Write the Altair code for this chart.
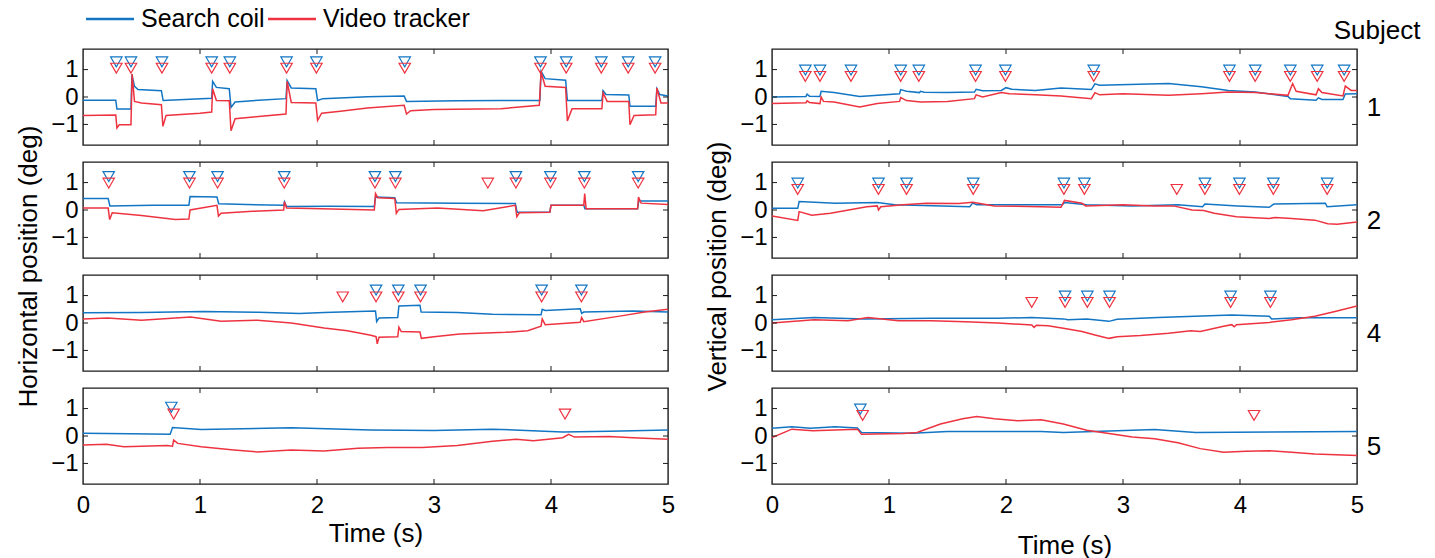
import altair as alt
import pandas as pd

BLUE = "#1276c4"
RED = "#ee3340"
FONT = "Liberation Sans"

SERIES = ["Search coil", "Video tracker"]
SUBJECTS = ["1", "2", "4", "5"]
TIME_TICKS = [0, 1, 2, 3, 4, 5]
INNER_TIME_TICKS = [1, 2, 3, 4]
POS_TICKS = [-1, 0, 1]
Y_TITLES = ["Horizontal position (deg)", "Vertical position (deg)"]
X_TITLE = "Time (s)"

# ---- horizontal eye position traces: (time s, position deg) ----
H1_COIL = [(0, -0.12), (0.28, -0.12), (0.29, -0.44), (0.41, -0.44), (0.418, 0.82), (0.44, 0.39),
           (0.47, 0.27), (0.67, 0.23), (0.685, -0.13), (1.1, -0.05), (1.108, 0.57), (1.14, 0.35),
           (1.25, 0.3), (1.265, -0.38), (1.30, -0.18), (1.5, -0.12), (1.735, -0.06), (1.745, 0.6),
           (1.78, 0.33), (1.99, 0.3), (2.005, -0.13), (2.05, -0.06), (2.43, 0.01), (2.745, 0.04),
           (2.765, -0.16), (3.2, -0.14), (3.57, -0.13), (3.905, -0.13), (3.915, 0.94), (3.95, 0.67),
           (4.125, 0.61), (4.14, -0.13), (4.435, -0.13), (4.445, 0.23), (4.47, 0.09), (4.665, 0.07),
           (4.675, -0.34), (4.895, -0.34), (4.905, 0.3), (4.93, 0.09), (5.0, 0.04)]
H1_VIDEO = [(0, -0.67), (0.28, -0.66), (0.29, -1.13), (0.31, -1.01), (0.41, -1.01), (0.42, 0.84),
            (0.44, -0.16), (0.5, -0.22), (0.67, -0.28), (0.683, -1.07), (0.71, -0.67), (1.0, -0.59),
            (1.1, -0.55), (1.108, 0.3), (1.14, -0.13), (1.25, -0.14), (1.265, -1.23), (1.3, -0.79),
            (1.5, -0.71), (1.735, -0.62), (1.745, 0.57), (1.78, -0.2), (1.99, -0.22), (2.005, -0.85),
            (2.04, -0.59), (2.2, -0.52), (2.43, -0.4), (2.745, -0.3), (2.765, -0.62), (2.8, -0.5),
            (3.0, -0.46), (3.57, -0.43), (3.9, -0.3), (3.915, 0.91), (3.95, 0.39), (4.125, 0.35),
            (4.14, -0.87), (4.18, -0.43), (4.435, -0.43), (4.445, 0.15), (4.48, -0.16), (4.665, -0.16),
            (4.675, -1.01), (4.71, -0.67), (4.895, -0.65), (4.905, 0.33), (4.94, -0.22), (5.0, -0.22)]

H2_COIL = [(0, 0.42), (0.215, 0.42), (0.23, 0.15), (0.6, 0.17), (0.905, 0.17), (0.915, 0.49),
           (1.145, 0.47), (1.16, 0.23), (1.4, 0.2), (1.715, 0.17), (1.722, 0.3), (1.74, 0.13),
           (2.1, 0.14), (2.49, 0.13), (2.5, 0.47), (2.665, 0.45), (2.68, 0.26), (3.2, 0.25),
           (3.695, 0.24), (3.71, -0.08), (3.99, -0.08), (4.0, 0.17), (4.28, 0.17), (4.29, 0.05),
           (4.74, 0.05), (4.75, 0.33), (5.0, 0.33)]
H2_VIDEO = [(0, 0.07), (0.215, 0.07), (0.228, -0.35), (0.25, -0.1), (0.5, -0.2), (0.79, -0.35),
            (0.905, -0.33), (0.915, 0.0), (1.145, 0.17), (1.158, -0.22), (1.18, -0.12), (1.45, -0.05),
            (1.715, 0.0), (1.722, 0.3), (1.74, 0.07), (2.04, 0.05), (2.49, 0.0), (2.5, 0.6),
            (2.52, 0.45), (2.665, 0.42), (2.678, -0.12), (2.7, 0.02), (3.03, 0.07), (3.42, -0.03),
            (3.695, 0.17), (3.708, -0.24), (3.73, -0.1), (3.99, -0.08), (4.0, 0.17), (4.28, 0.17),
            (4.288, 0.6), (4.3, 0.05), (4.74, 0.05), (4.748, 0.47), (4.77, 0.25), (5.0, 0.2)]

H3_COIL = [(0, 0.37), (0.5, 0.38), (1.03, 0.42), (1.5, 0.39), (1.85, 0.35), (2.06, 0.38),
           (2.35, 0.42), (2.5, 0.44), (2.51, 0.05), (2.53, 0.18), (2.69, 0.2), (2.70, 0.62),
           (2.88, 0.65), (2.89, 0.4), (3.2, 0.38), (3.5, 0.32), (3.915, 0.3), (3.925, 0.5),
           (3.95, 0.46), (4.25, 0.52), (4.262, 0.35), (4.28, 0.4), (4.7, 0.44), (5.0, 0.4)]
H3_VIDEO = [(0, 0.15), (0.21, 0.18), (0.5, 0.1), (0.92, 0.22), (1.18, 0.06), (1.49, 0.1),
            (1.78, 0.0), (2.06, -0.18), (2.26, -0.28), (2.46, -0.45), (2.505, -0.5), (2.515, -0.76),
            (2.53, -0.52), (2.69, -0.5), (2.70, -0.15), (2.72, -0.31), (2.88, -0.33), (2.892, -0.56),
            (3.0, -0.5), (3.22, -0.4), (3.61, -0.34), (3.8, -0.28), (3.915, -0.12), (3.925, 0.15),
            (3.95, -0.06), (4.25, 0.03), (4.262, 0.2), (4.28, 0.05), (4.6, 0.26), (4.8, 0.4),
            (5.0, 0.5)]

H4_COIL = [(0, 0.1), (0.4, 0.08), (0.745, 0.06), (0.765, 0.31), (1.01, 0.24), (1.78, 0.3),
           (2.46, 0.22), (3.0, 0.2), (3.5, 0.25), (4.1, 0.15), (4.5, 0.17), (5.0, 0.22)]
H4_VIDEO = [(0, -0.33), (0.2, -0.3), (0.35, -0.39), (0.72, -0.35), (0.765, -0.37), (0.775, -0.15),
            (0.81, -0.27), (1.01, -0.39), (1.29, -0.51), (1.49, -0.58), (1.78, -0.51), (2.06, -0.55),
            (2.35, -0.45), (2.6, -0.42), (2.9, -0.42), (3.2, -0.35), (3.5, -0.19), (3.7, -0.12),
            (3.85, -0.17), (4.1, -0.06), (4.15, 0.06), (4.2, -0.04), (4.5, -0.02), (4.7, -0.06),
            (5.0, -0.12)]

# ---- vertical eye position traces ----
V1_COIL = [(0, 0.0), (0.29, 0.02), (0.30, 0.1), (0.32, 0.03), (0.41, 0.02), (0.42, 0.21),
           (0.53, 0.16), (0.75, 0.02), (1.09, 0.12), (1.10, 0.27), (1.15, 0.21), (1.26, 0.16),
           (1.27, 0.21), (1.3, 0.17), (1.5, 0.16), (1.73, 0.18), (1.745, 0.28), (1.8, 0.23),
           (1.96, 0.24), (2.0, 0.34), (2.05, 0.28), (2.25, 0.24), (2.47, 0.33), (2.73, 0.27),
           (2.76, 0.48), (2.8, 0.43), (3.39, 0.49), (3.67, 0.37), (3.9, 0.24), (4.13, 0.18),
           (4.41, 0.02), (4.43, -0.06), (4.65, -0.12), (4.67, -0.03), (4.7, -0.09), (4.88, -0.09),
           (4.9, 0.11), (5.0, 0.12)]
V1_VIDEO = [(0, -0.24), (0.29, -0.21), (0.30, -0.14), (0.32, -0.2), (0.41, -0.24), (0.42, 0.0),
            (0.44, -0.16), (0.53, -0.18), (0.75, -0.36), (0.9, -0.24), (1.09, -0.16), (1.10, -0.02),
            (1.15, -0.13), (1.27, -0.18), (1.5, -0.16), (1.73, -0.06), (1.745, 0.08), (1.8, 0.0),
            (1.96, 0.16), (2.03, 0.12), (2.25, 0.08), (2.47, 0.04), (2.73, -0.06), (2.76, 0.16),
            (2.8, 0.08), (3.0, 0.12), (3.39, 0.06), (3.67, 0.12), (3.9, 0.18), (4.13, 0.16),
            (4.41, 0.06), (4.45, 0.49), (4.48, 0.21), (4.65, 0.08), (4.67, 0.3), (4.7, 0.16),
            (4.88, 0.04), (4.9, 0.4), (4.95, 0.24), (5.0, 0.24)]

V2_COIL = [(0, 0.06), (0.22, 0.06), (0.232, 0.31), (0.54, 0.25), (0.9, 0.27), (1.05, 0.19),
           (1.69, 0.12), (1.715, 0.25), (1.75, 0.19), (2.48, 0.19), (2.5, 0.27), (2.69, 0.19),
           (3.08, 0.15), (3.47, 0.19), (3.68, 0.12), (3.70, 0.22), (3.98, 0.15), (4.25, 0.1),
           (4.29, 0.22), (4.73, 0.25), (4.745, 0.12), (5.0, 0.19)]
V2_VIDEO = [(0, -0.22), (0.22, -0.38), (0.232, -0.06), (0.34, -0.19), (0.5, -0.12), (0.81, 0.12),
            (0.9, 0.15), (0.91, 0.0), (0.93, 0.12), (1.12, 0.19), (1.32, 0.25), (1.6, 0.24),
            (1.715, 0.28), (1.9, 0.15), (2.3, 0.12), (2.47, 0.1), (2.5, 0.35), (2.65, 0.25),
            (2.68, 0.15), (3.0, 0.19), (3.27, 0.15), (3.43, 0.15), (3.59, 0.0), (3.69, -0.02),
            (3.78, -0.12), (3.97, -0.25), (4.25, -0.31), (4.3, -0.27), (4.44, -0.31), (4.64, -0.37),
            (4.75, -0.5), (4.83, -0.52), (5.0, -0.44)]

V3_COIL = [(0, 0.12), (0.36, 0.2), (0.79, 0.15), (1.36, 0.17), (1.93, 0.17), (2.22, 0.2),
           (2.49, 0.15), (2.53, 0.12), (2.69, 0.15), (2.88, 0.06), (2.95, 0.14), (3.3, 0.2),
           (3.93, 0.29), (4.25, 0.25), (4.27, 0.15), (4.5, 0.19), (5.0, 0.19)]
V3_VIDEO = [(0, 0.0), (0.36, 0.12), (0.65, 0.08), (0.82, 0.2), (1.08, 0.08), (1.36, 0.08),
            (1.65, 0.05), (1.93, 0.0), (2.22, -0.07), (2.24, -0.16), (2.26, -0.08), (2.36, -0.1),
            (2.49, -0.19), (2.65, -0.31), (2.76, -0.44), (2.88, -0.56), (2.95, -0.5), (3.15, -0.46),
            (3.39, -0.37), (3.58, -0.28), (3.66, -0.31), (3.86, -0.12), (3.93, -0.06), (3.95, -0.14),
            (3.97, -0.06), (4.25, 0.02), (4.44, 0.12), (4.64, 0.25), (4.83, 0.44), (5.0, 0.62)]

V4_COIL = [(0, 0.28), (0.17, 0.34), (0.33, 0.28), (0.54, 0.34), (0.73, 0.29), (0.765, 0.13),
           (1.2, 0.1), (1.5, 0.16), (2.3, 0.16), (2.49, 0.13), (3.08, 0.21), (3.27, 0.24),
           (3.62, 0.13), (5.0, 0.16)]
V4_VIDEO = [(0, -0.06), (0.17, 0.25), (0.35, 0.19), (0.73, 0.25), (0.765, 0.06), (1.12, 0.09),
            (1.24, 0.13), (1.44, 0.44), (1.63, 0.63), (1.75, 0.71), (1.9, 0.63), (2.1, 0.56),
            (2.3, 0.59), (2.49, 0.44), (2.69, 0.21), (2.88, 0.09), (3.08, -0.04), (3.27, -0.1),
            (3.47, -0.25), (3.66, -0.46), (3.86, -0.59), (4.05, -0.56), (4.25, -0.54), (4.44, -0.59),
            (4.64, -0.66), (5.0, -0.71)]

# ---- detected saccade onsets (s), per subject row ----
MARKS_COIL = [
    [0.285, 0.41, 0.675, 1.10, 1.255, 1.74, 1.995, 2.75, 3.91, 4.13, 4.43, 4.66, 4.89],
    [0.22, 0.91, 1.15, 1.72, 2.495, 2.67, 3.70, 3.995, 4.285, 4.745],
    [2.505, 2.695, 2.885, 3.92, 4.26],
    [0.755],
]
MARKS_VIDEO = [
    [0.285, 0.41, 0.675, 1.10, 1.255, 1.74, 1.995, 2.75, 3.91, 4.13, 4.43, 4.66, 4.89],
    [0.22, 0.91, 1.15, 1.72, 2.495, 2.67, 3.46, 3.70, 3.995, 4.285, 4.745],
    [2.22, 2.505, 2.695, 2.885, 3.92, 4.26],
    [0.775, 4.12],
]
# marker heights (deg) for the horizontal and vertical panels
H_LEVEL_COIL = [1.28, 1.22, 1.2, 1.05]
H_LEVEL_VIDEO = [1.05, 0.98, 0.95, 0.8]
V_LEVEL_COIL = [0.98, 0.98, 0.98, 0.98]
V_LEVEL_VIDEO = [0.75, 0.75, 0.75, 0.75]

W, H = 585, 96
XS = alt.Scale(domain=[0, 5], nice=False, zero=False)
YS = alt.Scale(domain=[-1.75, 1.75], nice=False, zero=False)


def x_axis(bottom, title_pad):
    if bottom:
        return alt.Axis(values=TIME_TICKS, format="d", tickSize=0, domain=False, grid=False,
                        labelPadding=9, labelFontSize=24, labelFlush=False,
                        title=X_TITLE, titleFontSize=26, titleFontWeight="normal",
                        titlePadding=title_pad)
    return alt.Axis(values=TIME_TICKS, labels=False, ticks=False, domain=False, grid=False,
                    title=None)


Y_AXIS = alt.Axis(values=POS_TICKS, format="d", tickSize=0, domain=False, grid=False,
                  labelPadding=5, labelFontSize=24, title=None)


def trace_frame(coil, video):
    rows = []
    for name, pts in ((SERIES[0], coil), (SERIES[1], video)):
        for i, (t, v) in enumerate(pts):
            rows.append({"t": t, "v": v, "series": name, "i": i})
    return pd.DataFrame(rows)


def panel(coil, video, row, levels, bottom, title_pad, extras):
    xe = alt.X("t:Q", scale=XS, axis=x_axis(bottom, title_pad))
    ye = alt.Y("v:Q", scale=YS, axis=Y_AXIS)

    lines = alt.Chart(trace_frame(coil, video)).mark_line(strokeWidth=1.5, clip=True).encode(
        x=xe, y=ye,
        color=alt.Color("series:N", scale=alt.Scale(domain=SERIES, range=[BLUE, RED]), legend=None),
        order="i:Q",
    )

    # inward tick marks on all four sides of the frame
    tx = alt.Chart(pd.DataFrame({"t": INNER_TIME_TICKS}))
    ty = alt.Chart(pd.DataFrame({"v": POS_TICKS}))
    rule = dict(color="#1a1a1a", strokeWidth=1)
    ticks = [
        tx.mark_rule(**rule).encode(x=xe, y=alt.value(0), y2=alt.value(5)),
        tx.mark_rule(**rule).encode(x=xe, y=alt.value(H - 5), y2=alt.value(H)),
        ty.mark_rule(**rule).encode(y=ye, x=alt.value(0), x2=alt.value(5)),
        ty.mark_rule(**rule).encode(y=ye, x=alt.value(W - 5), x2=alt.value(W)),
    ]

    def markers(times, level, color):
        df = pd.DataFrame({"t": times, "v": [level] * len(times)})
        return alt.Chart(df).mark_point(
            shape="triangle-down", filled=False, size=130, strokeWidth=1.2, color=color, opacity=1
        ).encode(x=xe, y=ye)

    layers = [lines] + ticks + [
        markers(MARKS_COIL[row], levels[0][row], BLUE),
        markers(MARKS_VIDEO[row], levels[1][row], RED),
    ] + extras
    return alt.layer(*layers).properties(width=W, height=H)


def label(text, x, y, size=26, align="center", angle=0):
    return alt.Chart(pd.DataFrame({"label": [text]})).mark_text(
        fontSize=size, align=align, baseline="middle", angle=angle, color="black"
    ).encode(text="label:N", x=alt.value(x), y=alt.value(y))


def legend_items():
    out = []
    for name, color, x0 in ((SERIES[0], BLUE, 3), (SERIES[1], RED, 185)):
        out.append(alt.Chart(pd.DataFrame({"series": [name]})).mark_rule(color=color, strokeWidth=2.5)
                   .encode(x=alt.value(x0), x2=alt.value(x0 + 48), y=alt.value(-30)))
        out.append(label(name, x0 + 55, -30, size=25, align="left"))
    return out


# transparent anchor fixing the top-left corner of the whole figure
anchor = alt.Chart(pd.DataFrame({"a": [0]})).mark_rule(opacity=0, strokeWidth=1).encode(
    x=alt.value(-81.5), x2=alt.value(-81), y=alt.value(-47.5))

HL = (H_LEVEL_COIL, H_LEVEL_VIDEO)
VL = (V_LEVEL_COIL, V_LEVEL_VIDEO)

left = [
    panel(H1_COIL, H1_VIDEO, 0, HL, False, 0, legend_items() + [anchor]),
    panel(H2_COIL, H2_VIDEO, 1, HL, False, 0, [label(Y_TITLES[0], -54, H + 8.5, angle=270)]),
    panel(H3_COIL, H3_VIDEO, 2, HL, False, 0, []),
    panel(H4_COIL, H4_VIDEO, 3, HL, True, 3, []),
]
right = [
    panel(V1_COIL, V1_VIDEO, 0, VL, False, 0,
          [label("Subject", 605, -18), label(SUBJECTS[0], 602, 59)]),
    panel(V2_COIL, V2_VIDEO, 1, VL, False, 0,
          [label(SUBJECTS[1], 602, 59), label(Y_TITLES[1], -54, H + 8.5, angle=270)]),
    panel(V3_COIL, V3_VIDEO, 2, VL, False, 0, [label(SUBJECTS[2], 602, 59)]),
    panel(V4_COIL, V4_VIDEO, 3, VL, True, 15, [label(SUBJECTS[3], 602, 59)]),
]

cells = []
for a, b in zip(left, right):
    cells += [a, b]

chart = alt.concat(
    *cells, columns=2, spacing={"row": 17, "column": 104}, bounds="flush"
).properties(
    padding=0
).configure(
    font=FONT
).configure_view(
    stroke="#1a1a1a", strokeWidth=1.4
).configure_axis(
    labelFont=FONT, titleFont=FONT, labelColor="black", titleColor="black"
).configure_text(
    font=FONT
)

chart.save("out.html", embed_options={"renderer": "svg", "actions": False})
